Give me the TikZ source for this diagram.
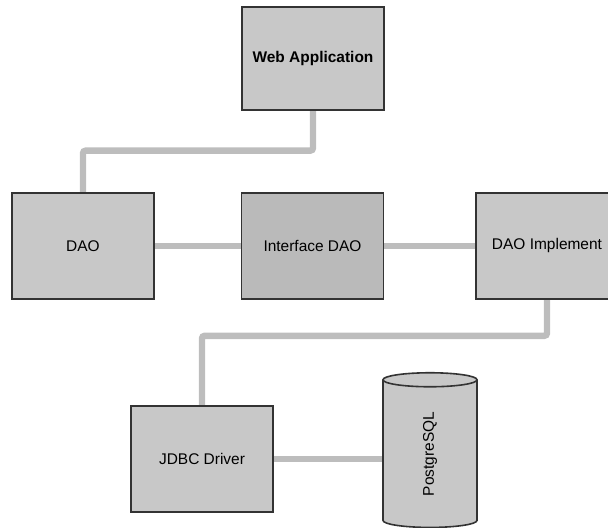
\documentclass[tikz,border=0pt]{standalone}
\usepackage{fontspec}
\setmainfont{Liberation Sans}
\usetikzlibrary{shapes.geometric, backgrounds}

\definecolor{boxgray}{HTML}{C8C8C8}
\definecolor{ifgray}{HTML}{BABABA}
\definecolor{linkgray}{HTML}{BDBDBD}
\definecolor{edgegray}{HTML}{333333}

\begin{document}
\begin{tikzpicture}[
  x=0.75pt, y=-0.75pt,
  box/.style={draw=edgegray, line width=1.2pt, fill=boxgray, minimum width=106.5pt,
              minimum height=79.5pt, inner sep=0pt, font=\fontsize{11.6}{13}\selectfont},
  link/.style={draw=linkgray, line width=4.8pt, rounded corners=2pt},
  dbstyle/.style={cylinder, draw=edgegray, line width=1.2pt, fill=boxgray, rotate=90,
              minimum width=70.5pt, minimum height=116pt, aspect=1, inner sep=0pt,
              font=\fontsize{11.6}{13}\selectfont}]
\useasboundingbox (0,0) rectangle (608,528);
\node[box, minimum height=77pt, font=\fontsize{11.6}{13}\selectfont\bfseries] (web) at (313,58.5) {Web Application};
\node[box] (dao)  at (83,246)  {DAO};
\node[box, fill=ifgray] (intf) at (312.5,246) {Interface DAO};
\node[box] (impl) at (547,246) {DAO Implement};
\node[box] (jdbc) at (202,459) {JDBC Driver};
\node[dbstyle] (db) at (430,454) {PostgreSQL};
\begin{scope}[on background layer]
  \draw[link] (web.south) -- ++(0,40) -| (dao.north);
  \draw[link] (dao) -- (intf);
  \draw[link] (intf) -- (impl);
  \draw[link] (impl.south) -- ++(0,36) -| (jdbc.north);
  \draw[link] (jdbc.east) -- (jdbc.east -| db.center);
\end{scope}
\end{tikzpicture}
\end{document}
